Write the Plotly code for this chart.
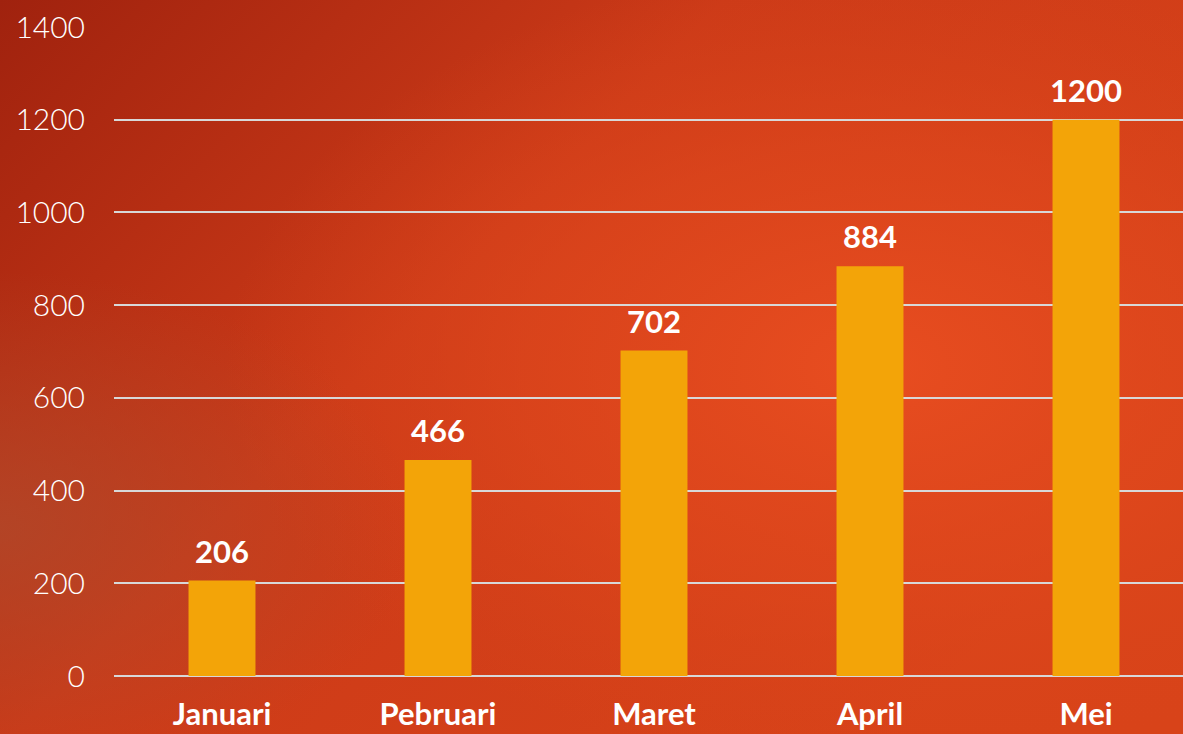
import base64
import plotly.graph_objects as go

months = ["Januari", "Pebruari", "Maret", "April", "Mei"]
values = [206, 466, 702, 884, 1200]
y_ticks = [0, 200, 400, 600, 800, 1000, 1200, 1400]

W, H = 1183, 734
ML, MR, MT, MB = 114, 0, 27, 58

svg = f"""<svg xmlns='http://www.w3.org/2000/svg' width='{W}' height='{H}' viewBox='0 0 {W} {H}' preserveAspectRatio='none'>
<defs>
<linearGradient id='lg' x1='0' y1='0' x2='1' y2='0.6'>
<stop offset='0' stop-color='#a0220e'/>
<stop offset='0.45' stop-color='#cc3a18'/>
<stop offset='1' stop-color='#d84319'/>
</linearGradient>
<radialGradient id='rg' cx='0.74' cy='0.5' r='0.55'>
<stop offset='0' stop-color='#e84d20' stop-opacity='1'/>
<stop offset='0.55' stop-color='#e0481d' stop-opacity='0.6'/>
<stop offset='1' stop-color='#d8441a' stop-opacity='0'/>
</radialGradient>
<radialGradient id='bl' cx='0' cy='0.72' r='0.35'>
<stop offset='0' stop-color='#b0482a' stop-opacity='0.8'/>
<stop offset='1' stop-color='#b0482a' stop-opacity='0'/>
</radialGradient>
</defs>
<rect width='{W}' height='{H}' fill='url(#lg)'/>
<rect width='{W}' height='{H}' fill='url(#rg)'/>
<rect width='{W}' height='{H}' fill='url(#bl)'/>
</svg>"""
src = "data:image/svg+xml;base64," + base64.b64encode(svg.encode()).decode()

pw = W - ML - MR
ph = H - MT - MB

fig = go.Figure()
fig.add_trace(go.Bar(
    x=months, y=values, width=0.31,
    marker=dict(color="#f3a408", line=dict(width=0)),
    hoverinfo="skip",
))

for m, v in zip(months, values):
    fig.add_annotation(
        x=m, y=v, text=f"<b>{v}</b>", showarrow=False,
        yanchor="bottom", yshift=9,
        font=dict(family="Lato", size=31, color="white"),
    )

fig.update_layout(
    width=W, height=H,
    margin=dict(l=ML, r=MR, t=MT, b=MB),
    paper_bgcolor="#c83a18",
    plot_bgcolor="rgba(0,0,0,0)",
    showlegend=False,
    images=[dict(
        source=src, xref="paper", yref="paper",
        x=-ML / pw, y=1 + MT / ph, sizex=W / pw, sizey=H / ph,
        xanchor="left", yanchor="top", sizing="stretch", layer="below",
    )],
    xaxis=dict(
        range=[-0.5, -0.5 + pw / 216.0],
        showgrid=False, zeroline=False, showline=False,
        tickfont=dict(family="Lato", size=31, color="white", weight=700),
        ticklabelstandoff=17,
        automargin=False,
        fixedrange=True,
    ),
    yaxis=dict(
        range=[0, 1400], tickvals=y_ticks,
        showgrid=True, gridcolor="#d8d8d8", gridwidth=1.5,
        zeroline=True, zerolinecolor="#d8d8d8", zerolinewidth=1.5,
        showline=False,
        tickfont=dict(family="Lato", size=30, color="white", weight=300),
        ticklabelstandoff=28,
        automargin=False,
        fixedrange=True,
    ),
)

fig.write_html(
    "out.html",
    config={"displayModeBar": False},
    post_script="document.body.style.margin='0';document.body.style.overflow='hidden';",
)
